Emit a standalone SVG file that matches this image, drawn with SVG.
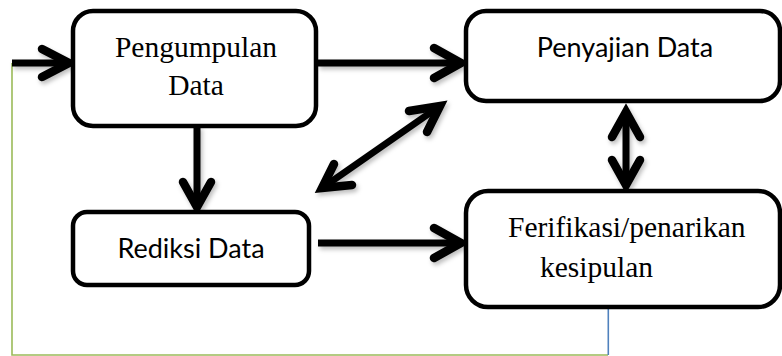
<svg xmlns="http://www.w3.org/2000/svg" width="782" height="356" viewBox="0 0 782 356">
<defs>
<style>
.box{fill:#fff;stroke:#000;stroke-width:4.5}
.ln{fill:none;stroke:#000;stroke-width:7;stroke-linecap:butt}
.hd{fill:none;stroke:#000;stroke-width:8.5;stroke-linecap:round;stroke-linejoin:miter}
.serif{font-family:"Liberation Serif","Times New Roman",serif;font-size:29.5px;fill:#000}
.sans{font-family:Lato,"Liberation Sans",sans-serif;font-size:27px;fill:#000}
</style>
<filter id="sh" x="-20%" y="-20%" width="140%" height="140%">
<feDropShadow dx="2" dy="3" stdDeviation="2" flood-color="#000" flood-opacity="0.25"/>
</filter>
</defs>
<rect width="782" height="356" fill="#fff"/>
<g id="feedback">
<polyline points="12,63 12,355 608,355" fill="none" stroke="#9BBB59" stroke-width="1.6"/>
<line x1="608.3" y1="306" x2="608.3" y2="355" stroke="#4F81BD" stroke-width="1.6"/>
</g>
<g id="connectors" filter="url(#sh)">
<line class="ln" x1="12" y1="63" x2="68" y2="63"/>
<polyline class="hd" points="42,49 69,63 42,77"/>
<line class="ln" x1="318" y1="63" x2="459" y2="63"/>
<polyline class="hd" points="434,48 461,63 434,78"/>
<line class="ln" x1="197" y1="126" x2="197" y2="206"/>
<polyline class="hd" points="183,182 197,207 211,182"/>
<line class="ln" x1="318" y1="243" x2="459" y2="243"/>
<polyline class="hd" points="434,228 461,243 434,258"/>
<line class="ln" x1="626" y1="113" x2="626" y2="184"/>
<polyline class="hd" points="612,137 626,112 640,137"/>
<polyline class="hd" points="612,160 626,185 640,160"/>
<line class="ln" x1="325" y1="186" x2="437" y2="108"/>
<polyline class="hd" points="409,111 440,106 427,132"/>
<polyline class="hd" points="334,164 322,188 352,185"/>
</g>
<g id="pengumpulan">
<rect class="box" x="73" y="11" width="243" height="115" rx="20"/>
<text class="serif" x="196" y="57" text-anchor="middle">Pengumpulan</text>
<text class="serif" x="196" y="95" text-anchor="middle">Data</text>
</g>
<g id="penyajian">
<rect class="box" x="466" y="11" width="314" height="90" rx="20"/>
<text class="sans" x="625" y="57" text-anchor="middle">Penyajian Data</text>
</g>
<g id="rediksi">
<rect class="box" x="73" y="212" width="236" height="73" rx="14"/>
<text class="sans" x="191" y="258" text-anchor="middle">Rediksi Data</text>
</g>
<g id="ferifikasi">
<rect class="box" x="466" y="191" width="314" height="116" rx="22"/>
<text class="serif" x="508" y="237">Ferifikasi/penarikan</text>
<text class="serif" x="540" y="277">kesipulan</text>
</g>
</svg>
